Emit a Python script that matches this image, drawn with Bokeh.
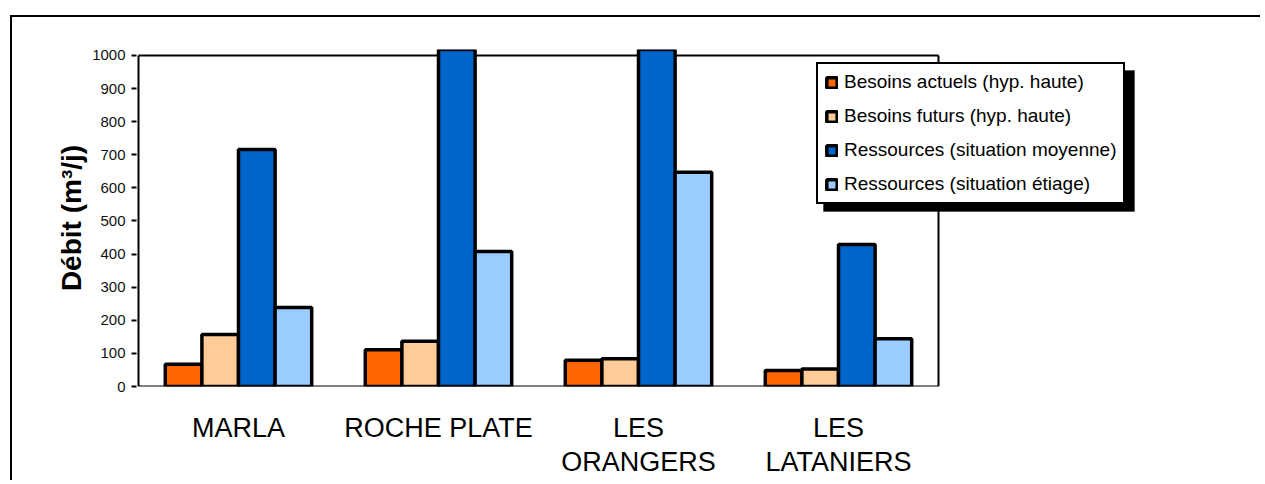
from bokeh.plotting import figure
from bokeh.models import (Range1d, Legend, LegendItem, BoxAnnotation,
                          ColumnDataSource, FixedTicker)
from bokeh.transform import dodge
from bokeh.embed import file_html
from bokeh.resources import INLINE

# ---- data ----
categories = ["MARLA", "ROCHE PLATE", "LES\nORANGERS", "LES\nLATANIERS"]
besoins_actuels = [67, 111, 79, 48]
besoins_futurs = [157, 137, 84, 53]
ressources_moyenne = [716, 1300, 1300, 429]   # two values exceed the 1000 axis (clipped)
ressources_etiage = [239, 408, 647, 144]
series_names = ["Besoins actuels (hyp. haute)", "Besoins futurs (hyp. haute)",
                "Ressources (situation moyenne)", "Ressources (situation étiage)"]
series_colors = ["#FF6600", "#FFCC99", "#0066CC", "#99CCFF"]
y_ticks = [0, 100, 200, 300, 400, 500, 600, 700, 800, 900, 1000]

FONT = "Liberation Sans"
n = len(categories)
y_max = y_ticks[-1]
x_centers = [i + 0.5 for i in range(n)]

src = ColumnDataSource(dict(xc=x_centers, a=besoins_actuels, b=besoins_futurs,
                            c=ressources_moyenne, d=ressources_etiage))

p = figure(width=1260, height=480, x_range=Range1d(-0.01, 5.0),
           y_range=Range1d(0, 1018), output_backend="svg", toolbar_location=None,
           min_border_left=136, min_border_right=122, min_border_top=49, min_border_bottom=94)

p.background_fill_color = "white"
p.border_fill_color = "white"
p.outline_line_color = None
p.xgrid.visible = False
p.ygrid.visible = False

# plot-area frame (top, right, bottom, left)
p.segment(x0=[0, n, 0, 0], y0=[y_max, 0, 0, 0], x1=[n, n, n, 0], y1=[y_max, y_max, 0, y_max],
          line_color="black", line_width=2)

bw = 0.183
offsets = [-0.2745, -0.0915, 0.0915, 0.2745]
renderers = []
for field, off, col in zip(["a", "b", "c", "d"], offsets, series_colors):
    r = p.vbar(x=dodge("xc", off), top=field, width=bw, source=src,
               fill_color=col, line_color="black", line_width=3.5)
    renderers.append(r)

# axes
p.yaxis.ticker = FixedTicker(ticks=y_ticks)
p.yaxis.minor_tick_line_color = None
p.yaxis.axis_line_color = None
p.yaxis.major_tick_in = 0
p.yaxis.major_tick_out = 5
p.yaxis.major_tick_line_width = 2
p.yaxis.major_label_text_font = FONT
p.yaxis.major_label_text_font_size = "15px"
p.yaxis.major_label_text_color = "#111111"
p.yaxis.major_label_standoff = 6
p.yaxis.axis_label = "Débit (m³/j)"
p.yaxis.axis_label_text_font = FONT
p.yaxis.axis_label_text_font_size = "28px"
p.yaxis.axis_label_text_font_style = "bold"
p.yaxis.axis_label_text_color = "black"
p.yaxis.axis_label_standoff = 2

p.xaxis.ticker = FixedTicker(ticks=x_centers)
p.xaxis.major_label_overrides = {x: c for x, c in zip(x_centers, categories)}
p.xaxis.axis_line_color = None
p.xaxis.major_tick_line_color = None
p.xaxis.minor_tick_line_color = None
p.xaxis.major_tick_out = 0
p.xaxis.major_tick_in = 0
p.xaxis.major_label_text_font = FONT
p.xaxis.major_label_text_font_size = "27px"
p.xaxis.major_label_text_color = "black"
p.xaxis.major_label_text_line_height = 1.15
p.xaxis.major_label_standoff = 26

# legend shadow
p.add_layout(BoxAnnotation(left=687, right=998, top=316, bottom=175,
                           left_units="screen", right_units="screen",
                           top_units="screen", bottom_units="screen",
                           fill_color="black", fill_alpha=1, line_color="black",
                           level="overlay"))

legend = Legend(items=[LegendItem(label=s, renderers=[r]) for s, r in zip(series_names, renderers)],
                location=(680, 182))
legend.label_text_font = FONT
legend.label_text_font_size = "19px"
legend.label_text_color = "black"
legend.label_height = 20
legend.glyph_width = 13
legend.glyph_height = 13
legend.label_standoff = 6
legend.spacing = 12
legend.padding = 7
legend.margin = 0
legend.border_line_color = "black"
legend.border_line_alpha = 1
legend.border_line_width = 2
legend.background_fill_color = "white"
legend.background_fill_alpha = 1
p.add_layout(legend, "center")

# outer frame of the picture (top and left edges)
p.stylesheets = [":host::after { content: ''; position: absolute; left: 10px; top: 15px; "
                 "right: 0; bottom: 0; border-left: 2px solid black; border-top: 2px solid black; "
                 "pointer-events: none; z-index: 100; }"]

open("out.html", "w").write(file_html(p, INLINE))
